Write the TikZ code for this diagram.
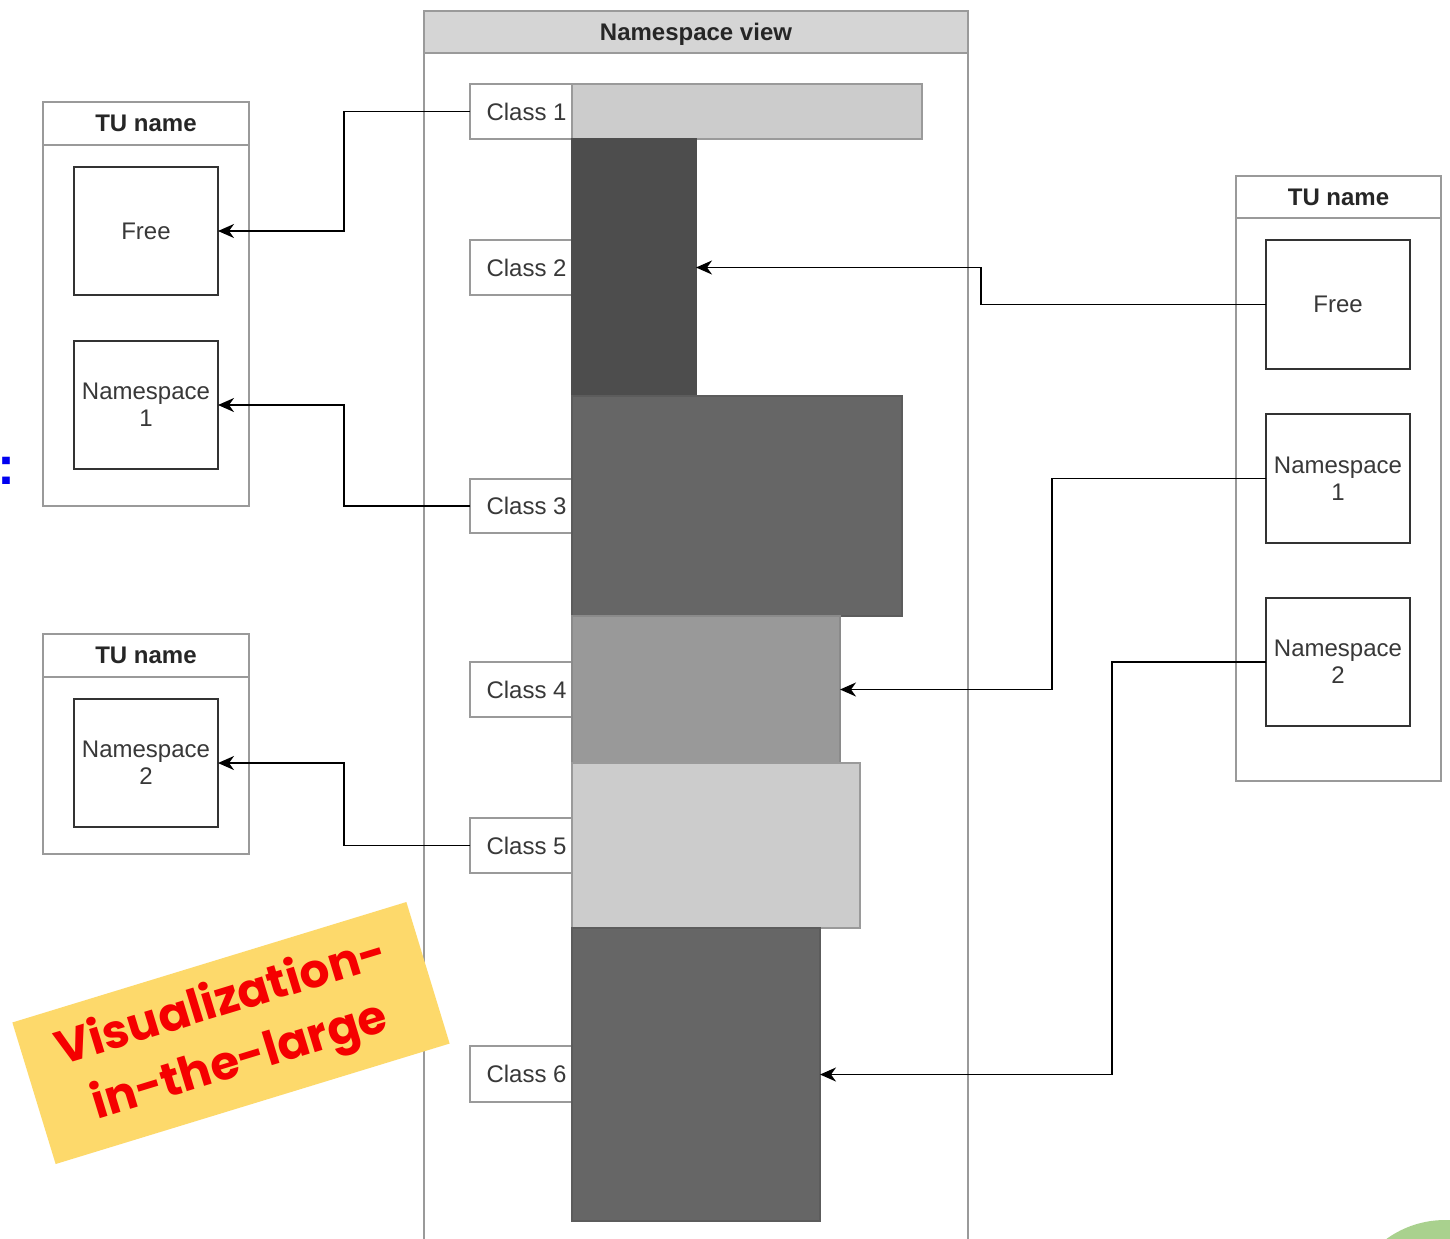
\documentclass[tikz,border=0pt]{standalone}
\usepackage{fontspec}
\setmainfont{Liberation Sans}
\newfontfamily\notefont{Poppins}
\usetikzlibrary{fit,arrows.meta}

\definecolor{framegray}{HTML}{9A9A9A}
\definecolor{boxedge}{HTML}{333333}
\definecolor{labeltext}{HTML}{383838}
\definecolor{headgray}{HTML}{D5D5D5}
\definecolor{barlight}{HTML}{CCCCCC}
\definecolor{barmid}{HTML}{999999}
\definecolor{bardark}{HTML}{666666}
\definecolor{bardarker}{HTML}{4D4D4D}
\definecolor{notefill}{HTML}{FDD96B}
\definecolor{notetext}{HTML}{F50000}
\definecolor{leafgreen}{HTML}{A9D18E}
\definecolor{colonblue}{HTML}{0000F0}

\tikzset{
  txt/.style={font=\fontsize{12}{13.5}\selectfont, text=labeltext, align=center},
  classtxt/.style={font=\fontsize{12}{13.5}\selectfont, text=labeltext, inner sep=0pt},
  headtxt/.style={font=\fontsize{12}{13.5}\selectfont\bfseries, text=black!85},
  frame/.style={draw=framegray, line width=1pt, fill=white, inner sep=0pt, outer sep=0pt},
  unitbox/.style={draw=boxedge, line width=1.1pt, fill=white, inner sep=0pt, outer sep=0pt},
  classbox/.style={draw=framegray, line width=0.9pt, fill=white, inner sep=0pt, outer sep=0pt},
  bar/.style={draw=framegray, line width=0.6pt, inner sep=0pt, outer sep=0pt},
  conn/.style={draw=black, line width=0.85pt, -{Stealth[length=8pt,width=7pt,inset=2.5pt]}},
}

\begin{document}
\begin{tikzpicture}[x=0.5pt,y=-0.5pt]
\clip (0,0) rectangle (1450,1238);
\fill[white] (0,0) rectangle (1450,1238);

% central namespace column
\node[frame, fit={(424,11)(968,1260)}] (nsview) {};
\node[frame, fill=headgray, fit={(424,11)(968,53)}] (nshead) {};
\node[headtxt] (nstitle) at ([yshift=-1pt]nshead.center) {Namespace view};

% class labels
\node[classbox, fit={(470,84)(572,139)}]   (c1) {};
\node[classbox, fit={(470,240)(572,295)}]  (c2) {};
\node[classbox, fit={(470,479)(572,533)}]  (c3) {};
\node[classbox, fit={(470,662)(572,717)}]  (c4) {};
\node[classbox, fit={(470,818)(572,873)}]  (c5) {};
\node[classbox, fit={(470,1046)(572,1102)}] (c6) {};

% usage bars
\node[bar, fill=barlight,  fit={(572,84)(922,139)}]   (b1) {};
\node[bar, fill=bardarker, draw=bardarker, fit={(572,139)(696,396)}]  (b2) {};
\node[bar, fill=bardark,   draw=bardark!90!black, fit={(572,396)(902,616)}]  (b3) {};
\node[bar, fill=barmid,    draw=barmid!90!black,  fit={(572,616)(840,763)}]  (b4) {};
\node[bar, fill=barlight,  fit={(572,763)(860,928)}]  (b5) {};
\node[bar, fill=bardark,   draw=bardark!90!black, fit={(572,928)(820,1221)}] (b6) {};

% class names, set over the label boxes
\foreach \i in {1,...,6}{
  \node[classtxt, anchor=east] (c\i t) at ([xshift=-2.5pt]c\i.east) {Class \i};
}

% left translation unit, upper
\node[frame, fit={(43,102)(249,506)}] (ltu1) {};
\node[frame, fit={(43,102)(249,145)}] (ltu1h) {};
\node[headtxt] (ltu1t) at (ltu1h.center) {TU name};
\node[unitbox, fit={(74,167)(218,295)}] (lfree) {};
\node[txt] (lfreet) at (lfree.center) {Free};
\node[unitbox, fit={(74,341)(218,469)}] (lns1) {};
\node[txt] (lns1t) at (lns1.center) {Namespace\\1};

% left translation unit, lower
\node[frame, fit={(43,634)(249,854)}] (ltu2) {};
\node[frame, fit={(43,634)(249,677)}] (ltu2h) {};
\node[headtxt] (ltu2t) at (ltu2h.center) {TU name};
\node[unitbox, fit={(74,699)(218,827)}] (lns2) {};
\node[txt] (lns2t) at (lns2.center) {Namespace\\2};

% right translation unit
\node[frame, fit={(1236,176)(1441,781)}] (rtu) {};
\node[frame, fit={(1236,176)(1441,218)}] (rtuh) {};
\node[headtxt] (rtut) at (rtuh.center) {TU name};
\node[unitbox, fit={(1266,240)(1410,369)}] (rfree) {};
\node[txt] (rfreet) at (rfree.center) {Free};
\node[unitbox, fit={(1266,414)(1410,543)}] (rns1) {};
\node[txt] (rns1t) at (rns1.center) {Namespace\\1};
\node[unitbox, fit={(1266,598)(1410,726)}] (rns2) {};
\node[txt] (rns2t) at (rns2.center) {Namespace\\2};

% connectors
\draw[conn] (c1.west) -- ++(-126,0) |- (lfree.east);
\draw[conn] (c3.west) -- ++(-126,0) |- (lns1.east);
\draw[conn] (c5.west) -- ++(-126,0) |- (lns2.east);
\draw[conn] (rfree.west) -- ++(-285,0) |- (b2.east);
\draw[conn] (rns1.west) -- ++(-214,0) |- (b4.east);
\draw[conn] (rns2.west) -- ++(-154,0) |- (b6.east);

% sticky note
\node[fill=notefill, minimum width=206pt, minimum height=74pt, rotate=17,
      inner sep=0pt, text=notetext, align=center,
      font=\notefont\bfseries\fontsize{23.5}{31}\selectfont] (note) at (231,1033)
      {Visualization-\\in-the-large};

% margin marks
\node[text=colonblue, font=\bfseries\fontsize{27}{29}\selectfont, inner sep=0pt] (colon) at (6,471) {:};
\fill[leafgreen] (1445,1320) circle[radius=100];
\end{tikzpicture}
\end{document}
